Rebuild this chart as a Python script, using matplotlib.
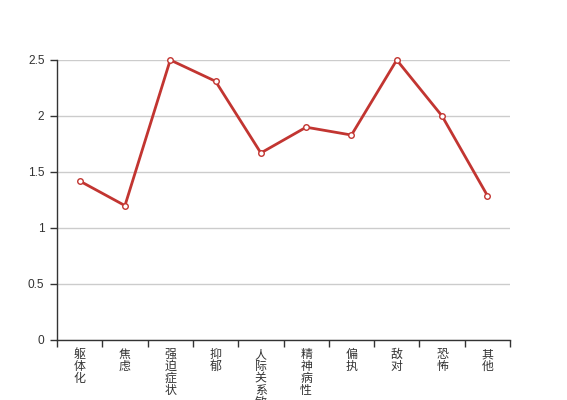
import matplotlib.pyplot as plt
import numpy as np

categories = ['躯体化', '焦虑', '强迫症状', '抑郁', '人际关系敏感', '精神病性',
              '偏执', '敌对', '恐怖', '其他']
values = [1.42, 1.2, 2.5, 2.31, 1.67, 1.9, 1.83, 2.5, 2.0, 1.29]

fig = plt.figure(figsize=(5.67, 4.0), dpi=100)
ax = fig.add_axes([57 / 567, 60 / 400, 453 / 567, 280 / 400])

x = np.arange(len(categories))
ax.plot(x, values, color='#c23531', linewidth=2, marker='o', markersize=4,
        markerfacecolor='white', markeredgecolor='#c23531', markeredgewidth=1,
        zorder=3, clip_on=False)

ax.set_xlim(-0.5, len(categories) - 0.5)
ax.set_ylim(0, 2.5)
ax.set_yticks([0, 0.5, 1, 1.5, 2, 2.5])
ax.set_yticklabels(['0', '0.5', '1', '1.5', '2', '2.5'],
                   fontsize=8.6, color='#333333', family='Liberation Sans')
ax.yaxis.grid(True, color='#cccccc', linewidth=1)
ax.set_axisbelow(True)

# category labels centred, boundary ticks as minor ticks
ax.set_xticks(x)
ax.set_xticklabels(['\n'.join(c) for c in categories], fontsize=8.6,
                   color='#333333', family=['Noto Sans CJK SC', 'DejaVu Sans'],
                   linespacing=0.88, va='top')
ax.set_xticks(np.arange(len(categories) + 1) - 0.5, minor=True)
ax.tick_params(axis='x', which='major', length=0, pad=6)
ax.tick_params(axis='x', which='minor', length=5, width=1, color='#333333')
ax.tick_params(axis='y', length=5, width=1, color='#333333', pad=4)

for s in ['top', 'right']:
    ax.spines[s].set_visible(False)
for s in ['left', 'bottom']:
    ax.spines[s].set_color('#333333')
    ax.spines[s].set_linewidth(1)

fig.savefig('out.png', dpi=100)
